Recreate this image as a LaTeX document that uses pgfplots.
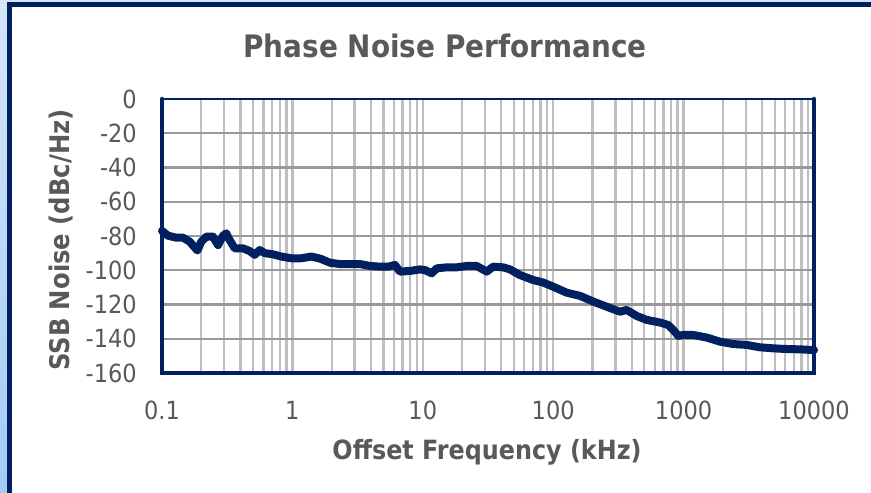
\documentclass[border=0pt]{standalone}
\usepackage{pgfplots}
\pgfplotsset{compat=1.18}
\usepackage{fontspec}
\setmainfont[FakeStretch=0.9]{DejaVu Sans}
\definecolor{navy}{HTML}{002060}
\definecolor{txt}{HTML}{595959}
\definecolor{bgtop}{HTML}{D5E5F8}
\definecolor{bgbot}{HTML}{A3CBF7}
\definecolor{hgrid}{HTML}{999999}
\definecolor{vgrid}{HTML}{BFBFBF}
\begin{document}
\begin{tikzpicture}[x=1pt,y=1pt]
\useasboundingbox (0,0) rectangle (871,493);
\shade[top color=bgtop, bottom color=bgbot] (0,0) rectangle (871,493);
\fill[white] (9.5,-10) rectangle (890,488);
\draw[navy, line width=5pt] (9.5,-10) -- (9.5,488) -- (890,488);
\begin{axis}[
  at={(162pt,120pt)}, anchor=south west,
  scale only axis, width=652pt, height=274pt,
  xmode=log, xmin=0.1, xmax=10000, ymin=-160, ymax=0,
  xtick={0.1,1,10,100,1000,10000},
  xticklabels={0.1,1,10,100,1000,10000},
  ytick={-160,-140,-120,-100,-80,-60,-40,-20,0},
  yticklabels={-160,-140,-120,-100,-80,-60,-40,-20,0},
  major tick length=0pt, minor tick length=0pt,
  tick style={draw=none},
  xmajorgrids, xminorgrids, ymajorgrids=false,
  major grid style={draw=vgrid, line width=2.3pt},
  minor grid style={draw=vgrid, line width=2.3pt},
  extra y ticks={-140,-120,-100,-80,-60,-40,-20},
  extra y tick labels={},
  extra y tick style={grid=major, major grid style={draw=hgrid, line width=2.3pt}},
  axis line style={draw=none},
  clip=false,
  ticklabel style={font=\fontsize{25}{30}\selectfont, text=txt, inner sep=0pt},
  xticklabel style={anchor=north, yshift=-28pt},
  yticklabel style={anchor=east, xshift=-25pt},
  title={Phase Noise Performance},
  title style={at={(0.434,1.171)}, anchor=center, font=\bfseries\fontsize{31}{36}\selectfont, text=txt},
  xlabel={Offset Frequency (kHz)},
  xlabel style={at={(0.4985,-0.288)}, anchor=center, font=\bfseries\fontsize{26.5}{31}\selectfont, text=txt},
  ylabel={SSB Noise (dBc/Hz)},
  ylabel style={at={(-0.155,0.485)}, anchor=center, font=\bfseries\fontsize{27}{31}\selectfont, text=txt},
]
\addplot[navy, line width=8pt, line join=round, line cap=round] table {
x y
0.1 -77
0.111 -79.8
0.129 -81
0.145 -81
0.163 -83.3
0.187 -88.5
0.2 -83.3
0.219 -80.4
0.246 -80.4
0.269 -85.3
0.294 -79.8
0.311 -78.4
0.33 -82.3
0.361 -87.2
0.418 -87.2
0.471 -88.8
0.514 -91
0.561 -88.2
0.613 -90
0.71 -90.7
0.822 -92
0.98 -93
1.17 -93
1.40 -92
1.66 -93.4
1.94 -95.6
2.32 -96.4
2.76 -96.4
3.30 -96.4
3.94 -97.5
4.70 -97.9
5.44 -97.9
6.12 -96.9
6.68 -100.8
7.98 -100.4
9.52 -99.5
10.4 -99.9
11.7 -101.8
12.8 -98.9
15.2 -98.3
18.2 -98.3
21.7 -97.5
25.9 -97.5
30.9 -100.8
34.7 -97.9
41.4 -98.3
46.6 -99.5
55.6 -102.8
70.3 -105.7
83.9 -107.2
100 -109.6
127 -113.1
161 -115
203 -118.3
257 -121.3
325 -124.2
366 -123.2
437 -126.7
521 -129
659 -130.5
764 -132
834 -134.9
911 -138.3
995 -137.8
1186 -137.8
1503 -139.3
1900 -141.7
2405 -143.1
3048 -143.6
3853 -145
4876 -145.6
6177 -146
7818 -146.2
10000 -146.6
};
\draw[navy, line width=4.5pt, line cap=round] (rel axis cs:0,1) -- (rel axis cs:0,0) -- (rel axis cs:1,0) -- (rel axis cs:1,1);
\draw[navy, line width=2.5pt] (rel axis cs:0,1) -- (rel axis cs:1,1);
\end{axis}
\end{tikzpicture}
\end{document}
